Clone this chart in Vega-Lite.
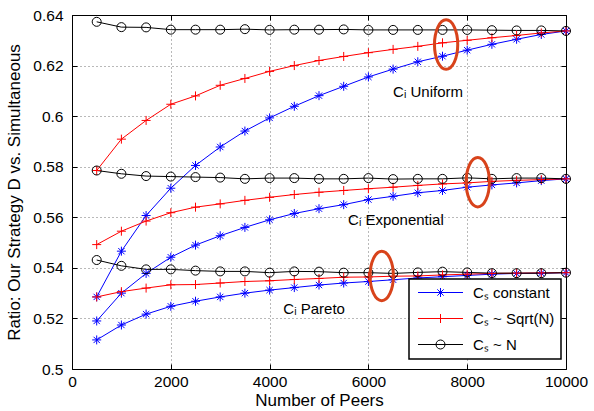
{
  "$schema": "https://vega.github.io/schema/vega-lite/v6.json",
  "width": 494,
  "height": 354,
  "autosize": {"type": "none"},
  "padding": {"left": 72, "top": 15, "right": 28, "bottom": 42},
  "background": "white",
  "config": {
    "font": "Liberation Sans",
    "view": {"stroke": "#000", "strokeWidth": 1},
    "axis": {
      "labelFont": "Liberation Sans", "titleFont": "Liberation Sans",
      "labelFontSize": 15.5, "titleFontSize": 17, "titleFontWeight": "normal",
      "labelColor": "#000", "titleColor": "#000", "tickColor": "#000",
      "domain": false, "gridColor": "#000", "gridDash": [1, 3], "gridOpacity": 0.55,
      "tickSize": -5, "tickWidth": 1, "labelFlush": false
    },
    "legend": {
      "orient": "none", "legendX": 337, "legendY": 264,
      "strokeColor": "#000", "strokeWidth": 1.5, "fillColor": "white",
      "padding": 6, "rowPadding": 10, "symbolSize": 81, "symbolStrokeWidth": 1,
      "symbolOffset": 18, "labelOffset": 25,
      "labelFont": "Liberation Sans", "labelFontSize": 15, "labelColor": "#000"
    }
  },
  "datasets": {
    "curves": [
      {"dist": "Uniform", "series": "Cₛ constant", "peers": 500, "ratio": 0.5285},
      {"dist": "Uniform", "series": "Cₛ constant", "peers": 1000, "ratio": 0.5466},
      {"dist": "Uniform", "series": "Cₛ constant", "peers": 1500, "ratio": 0.5607},
      {"dist": "Uniform", "series": "Cₛ constant", "peers": 2000, "ratio": 0.5715},
      {"dist": "Uniform", "series": "Cₛ constant", "peers": 2500, "ratio": 0.5805},
      {"dist": "Uniform", "series": "Cₛ constant", "peers": 3000, "ratio": 0.5878},
      {"dist": "Uniform", "series": "Cₛ constant", "peers": 3500, "ratio": 0.5941},
      {"dist": "Uniform", "series": "Cₛ constant", "peers": 4000, "ratio": 0.5993},
      {"dist": "Uniform", "series": "Cₛ constant", "peers": 4500, "ratio": 0.6039},
      {"dist": "Uniform", "series": "Cₛ constant", "peers": 5000, "ratio": 0.6081},
      {"dist": "Uniform", "series": "Cₛ constant", "peers": 5500, "ratio": 0.6118},
      {"dist": "Uniform", "series": "Cₛ constant", "peers": 6000, "ratio": 0.6155},
      {"dist": "Uniform", "series": "Cₛ constant", "peers": 6500, "ratio": 0.6186},
      {"dist": "Uniform", "series": "Cₛ constant", "peers": 7000, "ratio": 0.6215},
      {"dist": "Uniform", "series": "Cₛ constant", "peers": 7500, "ratio": 0.6237},
      {"dist": "Uniform", "series": "Cₛ constant", "peers": 8000, "ratio": 0.6261},
      {"dist": "Uniform", "series": "Cₛ constant", "peers": 8500, "ratio": 0.6284},
      {"dist": "Uniform", "series": "Cₛ constant", "peers": 9000, "ratio": 0.6304},
      {"dist": "Uniform", "series": "Cₛ constant", "peers": 9500, "ratio": 0.6323},
      {"dist": "Uniform", "series": "Cₛ constant", "peers": 10000, "ratio": 0.6337},
      {"dist": "Uniform", "series": "Cₛ ~ Sqrt(N)", "peers": 500, "ratio": 0.5785},
      {"dist": "Uniform", "series": "Cₛ ~ Sqrt(N)", "peers": 1000, "ratio": 0.5909},
      {"dist": "Uniform", "series": "Cₛ ~ Sqrt(N)", "peers": 1500, "ratio": 0.5983},
      {"dist": "Uniform", "series": "Cₛ ~ Sqrt(N)", "peers": 2000, "ratio": 0.6047},
      {"dist": "Uniform", "series": "Cₛ ~ Sqrt(N)", "peers": 2500, "ratio": 0.6080},
      {"dist": "Uniform", "series": "Cₛ ~ Sqrt(N)", "peers": 3000, "ratio": 0.6122},
      {"dist": "Uniform", "series": "Cₛ ~ Sqrt(N)", "peers": 3500, "ratio": 0.6149},
      {"dist": "Uniform", "series": "Cₛ ~ Sqrt(N)", "peers": 4000, "ratio": 0.6177},
      {"dist": "Uniform", "series": "Cₛ ~ Sqrt(N)", "peers": 4500, "ratio": 0.6200},
      {"dist": "Uniform", "series": "Cₛ ~ Sqrt(N)", "peers": 5000, "ratio": 0.6220},
      {"dist": "Uniform", "series": "Cₛ ~ Sqrt(N)", "peers": 5500, "ratio": 0.6236},
      {"dist": "Uniform", "series": "Cₛ ~ Sqrt(N)", "peers": 6000, "ratio": 0.6251},
      {"dist": "Uniform", "series": "Cₛ ~ Sqrt(N)", "peers": 6500, "ratio": 0.6264},
      {"dist": "Uniform", "series": "Cₛ ~ Sqrt(N)", "peers": 7000, "ratio": 0.6276},
      {"dist": "Uniform", "series": "Cₛ ~ Sqrt(N)", "peers": 7500, "ratio": 0.6290},
      {"dist": "Uniform", "series": "Cₛ ~ Sqrt(N)", "peers": 8000, "ratio": 0.6300},
      {"dist": "Uniform", "series": "Cₛ ~ Sqrt(N)", "peers": 8500, "ratio": 0.6310},
      {"dist": "Uniform", "series": "Cₛ ~ Sqrt(N)", "peers": 9000, "ratio": 0.6319},
      {"dist": "Uniform", "series": "Cₛ ~ Sqrt(N)", "peers": 9500, "ratio": 0.6329},
      {"dist": "Uniform", "series": "Cₛ ~ Sqrt(N)", "peers": 10000, "ratio": 0.6337},
      {"dist": "Uniform", "series": "Cₛ ~ N", "peers": 500, "ratio": 0.6373},
      {"dist": "Uniform", "series": "Cₛ ~ N", "peers": 1000, "ratio": 0.6352},
      {"dist": "Uniform", "series": "Cₛ ~ N", "peers": 1500, "ratio": 0.6351},
      {"dist": "Uniform", "series": "Cₛ ~ N", "peers": 2000, "ratio": 0.6342},
      {"dist": "Uniform", "series": "Cₛ ~ N", "peers": 2500, "ratio": 0.6342},
      {"dist": "Uniform", "series": "Cₛ ~ N", "peers": 3000, "ratio": 0.6342},
      {"dist": "Uniform", "series": "Cₛ ~ N", "peers": 3500, "ratio": 0.6344},
      {"dist": "Uniform", "series": "Cₛ ~ N", "peers": 4000, "ratio": 0.6341},
      {"dist": "Uniform", "series": "Cₛ ~ N", "peers": 4500, "ratio": 0.6342},
      {"dist": "Uniform", "series": "Cₛ ~ N", "peers": 5000, "ratio": 0.6342},
      {"dist": "Uniform", "series": "Cₛ ~ N", "peers": 5500, "ratio": 0.6343},
      {"dist": "Uniform", "series": "Cₛ ~ N", "peers": 6000, "ratio": 0.6341},
      {"dist": "Uniform", "series": "Cₛ ~ N", "peers": 6500, "ratio": 0.6341},
      {"dist": "Uniform", "series": "Cₛ ~ N", "peers": 7000, "ratio": 0.6341},
      {"dist": "Uniform", "series": "Cₛ ~ N", "peers": 7500, "ratio": 0.6341},
      {"dist": "Uniform", "series": "Cₛ ~ N", "peers": 8000, "ratio": 0.6341},
      {"dist": "Uniform", "series": "Cₛ ~ N", "peers": 8500, "ratio": 0.6340},
      {"dist": "Uniform", "series": "Cₛ ~ N", "peers": 9000, "ratio": 0.6339},
      {"dist": "Uniform", "series": "Cₛ ~ N", "peers": 9500, "ratio": 0.6339},
      {"dist": "Uniform", "series": "Cₛ ~ N", "peers": 10000, "ratio": 0.6337},
      {"dist": "Exponential", "series": "Cₛ constant", "peers": 500, "ratio": 0.5190},
      {"dist": "Exponential", "series": "Cₛ constant", "peers": 1000, "ratio": 0.5300},
      {"dist": "Exponential", "series": "Cₛ constant", "peers": 1500, "ratio": 0.5378},
      {"dist": "Exponential", "series": "Cₛ constant", "peers": 2000, "ratio": 0.5442},
      {"dist": "Exponential", "series": "Cₛ constant", "peers": 2500, "ratio": 0.5490},
      {"dist": "Exponential", "series": "Cₛ constant", "peers": 3000, "ratio": 0.5527},
      {"dist": "Exponential", "series": "Cₛ constant", "peers": 3500, "ratio": 0.5560},
      {"dist": "Exponential", "series": "Cₛ constant", "peers": 4000, "ratio": 0.5590},
      {"dist": "Exponential", "series": "Cₛ constant", "peers": 4500, "ratio": 0.5615},
      {"dist": "Exponential", "series": "Cₛ constant", "peers": 5000, "ratio": 0.5634},
      {"dist": "Exponential", "series": "Cₛ constant", "peers": 5500, "ratio": 0.5650},
      {"dist": "Exponential", "series": "Cₛ constant", "peers": 6000, "ratio": 0.5670},
      {"dist": "Exponential", "series": "Cₛ constant", "peers": 6500, "ratio": 0.5683},
      {"dist": "Exponential", "series": "Cₛ constant", "peers": 7000, "ratio": 0.5697},
      {"dist": "Exponential", "series": "Cₛ constant", "peers": 7500, "ratio": 0.5706},
      {"dist": "Exponential", "series": "Cₛ constant", "peers": 8000, "ratio": 0.5719},
      {"dist": "Exponential", "series": "Cₛ constant", "peers": 8500, "ratio": 0.5728},
      {"dist": "Exponential", "series": "Cₛ constant", "peers": 9000, "ratio": 0.5736},
      {"dist": "Exponential", "series": "Cₛ constant", "peers": 9500, "ratio": 0.5745},
      {"dist": "Exponential", "series": "Cₛ constant", "peers": 10000, "ratio": 0.5752},
      {"dist": "Exponential", "series": "Cₛ ~ Sqrt(N)", "peers": 500, "ratio": 0.5492},
      {"dist": "Exponential", "series": "Cₛ ~ Sqrt(N)", "peers": 1000, "ratio": 0.5545},
      {"dist": "Exponential", "series": "Cₛ ~ Sqrt(N)", "peers": 1500, "ratio": 0.5585},
      {"dist": "Exponential", "series": "Cₛ ~ Sqrt(N)", "peers": 2000, "ratio": 0.5618},
      {"dist": "Exponential", "series": "Cₛ ~ Sqrt(N)", "peers": 2500, "ratio": 0.5640},
      {"dist": "Exponential", "series": "Cₛ ~ Sqrt(N)", "peers": 3000, "ratio": 0.5653},
      {"dist": "Exponential", "series": "Cₛ ~ Sqrt(N)", "peers": 3500, "ratio": 0.5667},
      {"dist": "Exponential", "series": "Cₛ ~ Sqrt(N)", "peers": 4000, "ratio": 0.5679},
      {"dist": "Exponential", "series": "Cₛ ~ Sqrt(N)", "peers": 4500, "ratio": 0.5690},
      {"dist": "Exponential", "series": "Cₛ ~ Sqrt(N)", "peers": 5000, "ratio": 0.5699},
      {"dist": "Exponential", "series": "Cₛ ~ Sqrt(N)", "peers": 5500, "ratio": 0.5706},
      {"dist": "Exponential", "series": "Cₛ ~ Sqrt(N)", "peers": 6000, "ratio": 0.5713},
      {"dist": "Exponential", "series": "Cₛ ~ Sqrt(N)", "peers": 6500, "ratio": 0.5719},
      {"dist": "Exponential", "series": "Cₛ ~ Sqrt(N)", "peers": 7000, "ratio": 0.5726},
      {"dist": "Exponential", "series": "Cₛ ~ Sqrt(N)", "peers": 7500, "ratio": 0.5732},
      {"dist": "Exponential", "series": "Cₛ ~ Sqrt(N)", "peers": 8000, "ratio": 0.5736},
      {"dist": "Exponential", "series": "Cₛ ~ Sqrt(N)", "peers": 8500, "ratio": 0.5742},
      {"dist": "Exponential", "series": "Cₛ ~ Sqrt(N)", "peers": 9000, "ratio": 0.5746},
      {"dist": "Exponential", "series": "Cₛ ~ Sqrt(N)", "peers": 9500, "ratio": 0.5749},
      {"dist": "Exponential", "series": "Cₛ ~ Sqrt(N)", "peers": 10000, "ratio": 0.5752},
      {"dist": "Exponential", "series": "Cₛ ~ N", "peers": 500, "ratio": 0.5785},
      {"dist": "Exponential", "series": "Cₛ ~ N", "peers": 1000, "ratio": 0.5772},
      {"dist": "Exponential", "series": "Cₛ ~ N", "peers": 1500, "ratio": 0.5763},
      {"dist": "Exponential", "series": "Cₛ ~ N", "peers": 2000, "ratio": 0.5761},
      {"dist": "Exponential", "series": "Cₛ ~ N", "peers": 2500, "ratio": 0.5759},
      {"dist": "Exponential", "series": "Cₛ ~ N", "peers": 3000, "ratio": 0.5757},
      {"dist": "Exponential", "series": "Cₛ ~ N", "peers": 3500, "ratio": 0.5752},
      {"dist": "Exponential", "series": "Cₛ ~ N", "peers": 4000, "ratio": 0.5755},
      {"dist": "Exponential", "series": "Cₛ ~ N", "peers": 4500, "ratio": 0.5755},
      {"dist": "Exponential", "series": "Cₛ ~ N", "peers": 5000, "ratio": 0.5752},
      {"dist": "Exponential", "series": "Cₛ ~ N", "peers": 5500, "ratio": 0.5752},
      {"dist": "Exponential", "series": "Cₛ ~ N", "peers": 6000, "ratio": 0.5755},
      {"dist": "Exponential", "series": "Cₛ ~ N", "peers": 6500, "ratio": 0.5751},
      {"dist": "Exponential", "series": "Cₛ ~ N", "peers": 7000, "ratio": 0.5752},
      {"dist": "Exponential", "series": "Cₛ ~ N", "peers": 7500, "ratio": 0.5752},
      {"dist": "Exponential", "series": "Cₛ ~ N", "peers": 8000, "ratio": 0.5756},
      {"dist": "Exponential", "series": "Cₛ ~ N", "peers": 8500, "ratio": 0.5752},
      {"dist": "Exponential", "series": "Cₛ ~ N", "peers": 9000, "ratio": 0.5755},
      {"dist": "Exponential", "series": "Cₛ ~ N", "peers": 9500, "ratio": 0.5755},
      {"dist": "Exponential", "series": "Cₛ ~ N", "peers": 10000, "ratio": 0.5752},
      {"dist": "Pareto", "series": "Cₛ constant", "peers": 500, "ratio": 0.5115},
      {"dist": "Pareto", "series": "Cₛ constant", "peers": 1000, "ratio": 0.5174},
      {"dist": "Pareto", "series": "Cₛ constant", "peers": 1500, "ratio": 0.5217},
      {"dist": "Pareto", "series": "Cₛ constant", "peers": 2000, "ratio": 0.5248},
      {"dist": "Pareto", "series": "Cₛ constant", "peers": 2500, "ratio": 0.5268},
      {"dist": "Pareto", "series": "Cₛ constant", "peers": 3000, "ratio": 0.5285},
      {"dist": "Pareto", "series": "Cₛ constant", "peers": 3500, "ratio": 0.5300},
      {"dist": "Pareto", "series": "Cₛ constant", "peers": 4000, "ratio": 0.5312},
      {"dist": "Pareto", "series": "Cₛ constant", "peers": 4500, "ratio": 0.5322},
      {"dist": "Pareto", "series": "Cₛ constant", "peers": 5000, "ratio": 0.5332},
      {"dist": "Pareto", "series": "Cₛ constant", "peers": 5500, "ratio": 0.5340},
      {"dist": "Pareto", "series": "Cₛ constant", "peers": 6000, "ratio": 0.5346},
      {"dist": "Pareto", "series": "Cₛ constant", "peers": 6500, "ratio": 0.5353},
      {"dist": "Pareto", "series": "Cₛ constant", "peers": 7000, "ratio": 0.5360},
      {"dist": "Pareto", "series": "Cₛ constant", "peers": 7500, "ratio": 0.5365},
      {"dist": "Pareto", "series": "Cₛ constant", "peers": 8000, "ratio": 0.5370},
      {"dist": "Pareto", "series": "Cₛ constant", "peers": 8500, "ratio": 0.5375},
      {"dist": "Pareto", "series": "Cₛ constant", "peers": 9000, "ratio": 0.5378},
      {"dist": "Pareto", "series": "Cₛ constant", "peers": 9500, "ratio": 0.5379},
      {"dist": "Pareto", "series": "Cₛ constant", "peers": 10000, "ratio": 0.5381},
      {"dist": "Pareto", "series": "Cₛ ~ Sqrt(N)", "peers": 500, "ratio": 0.5285},
      {"dist": "Pareto", "series": "Cₛ ~ Sqrt(N)", "peers": 1000, "ratio": 0.5306},
      {"dist": "Pareto", "series": "Cₛ ~ Sqrt(N)", "peers": 1500, "ratio": 0.5320},
      {"dist": "Pareto", "series": "Cₛ ~ Sqrt(N)", "peers": 2000, "ratio": 0.5333},
      {"dist": "Pareto", "series": "Cₛ ~ Sqrt(N)", "peers": 2500, "ratio": 0.5334},
      {"dist": "Pareto", "series": "Cₛ ~ Sqrt(N)", "peers": 3000, "ratio": 0.5340},
      {"dist": "Pareto", "series": "Cₛ ~ Sqrt(N)", "peers": 3500, "ratio": 0.5346},
      {"dist": "Pareto", "series": "Cₛ ~ Sqrt(N)", "peers": 4000, "ratio": 0.5349},
      {"dist": "Pareto", "series": "Cₛ ~ Sqrt(N)", "peers": 4500, "ratio": 0.5354},
      {"dist": "Pareto", "series": "Cₛ ~ Sqrt(N)", "peers": 5000, "ratio": 0.5358},
      {"dist": "Pareto", "series": "Cₛ ~ Sqrt(N)", "peers": 5500, "ratio": 0.5363},
      {"dist": "Pareto", "series": "Cₛ ~ Sqrt(N)", "peers": 6000, "ratio": 0.5364},
      {"dist": "Pareto", "series": "Cₛ ~ Sqrt(N)", "peers": 6500, "ratio": 0.5367},
      {"dist": "Pareto", "series": "Cₛ ~ Sqrt(N)", "peers": 7000, "ratio": 0.5368},
      {"dist": "Pareto", "series": "Cₛ ~ Sqrt(N)", "peers": 7500, "ratio": 0.5372},
      {"dist": "Pareto", "series": "Cₛ ~ Sqrt(N)", "peers": 8000, "ratio": 0.5375},
      {"dist": "Pareto", "series": "Cₛ ~ Sqrt(N)", "peers": 8500, "ratio": 0.5378},
      {"dist": "Pareto", "series": "Cₛ ~ Sqrt(N)", "peers": 9000, "ratio": 0.5379},
      {"dist": "Pareto", "series": "Cₛ ~ Sqrt(N)", "peers": 9500, "ratio": 0.5380},
      {"dist": "Pareto", "series": "Cₛ ~ Sqrt(N)", "peers": 10000, "ratio": 0.5381},
      {"dist": "Pareto", "series": "Cₛ ~ N", "peers": 500, "ratio": 0.5431},
      {"dist": "Pareto", "series": "Cₛ ~ N", "peers": 1000, "ratio": 0.5408},
      {"dist": "Pareto", "series": "Cₛ ~ N", "peers": 1500, "ratio": 0.5394},
      {"dist": "Pareto", "series": "Cₛ ~ N", "peers": 2000, "ratio": 0.5394},
      {"dist": "Pareto", "series": "Cₛ ~ N", "peers": 2500, "ratio": 0.5389},
      {"dist": "Pareto", "series": "Cₛ ~ N", "peers": 3000, "ratio": 0.5386},
      {"dist": "Pareto", "series": "Cₛ ~ N", "peers": 3500, "ratio": 0.5386},
      {"dist": "Pareto", "series": "Cₛ ~ N", "peers": 4000, "ratio": 0.5381},
      {"dist": "Pareto", "series": "Cₛ ~ N", "peers": 4500, "ratio": 0.5386},
      {"dist": "Pareto", "series": "Cₛ ~ N", "peers": 5000, "ratio": 0.5385},
      {"dist": "Pareto", "series": "Cₛ ~ N", "peers": 5500, "ratio": 0.5381},
      {"dist": "Pareto", "series": "Cₛ ~ N", "peers": 6000, "ratio": 0.5381},
      {"dist": "Pareto", "series": "Cₛ ~ N", "peers": 6500, "ratio": 0.5378},
      {"dist": "Pareto", "series": "Cₛ ~ N", "peers": 7000, "ratio": 0.5382},
      {"dist": "Pareto", "series": "Cₛ ~ N", "peers": 7500, "ratio": 0.5385},
      {"dist": "Pareto", "series": "Cₛ ~ N", "peers": 8000, "ratio": 0.5382},
      {"dist": "Pareto", "series": "Cₛ ~ N", "peers": 8500, "ratio": 0.5379},
      {"dist": "Pareto", "series": "Cₛ ~ N", "peers": 9000, "ratio": 0.5379},
      {"dist": "Pareto", "series": "Cₛ ~ N", "peers": 9500, "ratio": 0.5379},
      {"dist": "Pareto", "series": "Cₛ ~ N", "peers": 10000, "ratio": 0.5381}
    ],
    "ellipses": [
      {"peers": 7573, "ratio": 0.6283},
      {"peers": 8214, "ratio": 0.5739},
      {"peers": 6270, "ratio": 0.5368}
    ],
    "labels": [
      {"peers": 6500, "ratio": 0.6095, "label": "Cᵢ Uniform"},
      {"peers": 5588, "ratio": 0.5591, "label": "Cᵢ Exponential"},
      {"peers": 4278, "ratio": 0.5238, "label": "Cᵢ Pareto"}
    ]
  },
  "layer": [
    {
      "data": {"name": "curves"},
      "mark": {"type": "line", "strokeWidth": 1},
      "encoding": {
        "x": {"field": "peers", "type": "quantitative", "title": "Number of Peers",
              "scale": {"domain": [0, 10000], "nice": false, "zero": false},
              "axis": {"values": [0, 2000, 4000, 6000, 8000, 10000], "format": "d", "grid": true, "labelPadding": 10, "titlePadding": 3}},
        "y": {"field": "ratio", "type": "quantitative", "title": "Ratio: Our Strategy D vs. Simultaneous",
              "scale": {"domain": [0.5, 0.64], "nice": false, "zero": false},
              "axis": {"values": [0.5, 0.52, 0.54, 0.56, 0.58, 0.6, 0.62, 0.64], "format": "~g", "grid": true, "labelPadding": 14, "titlePadding": 9}},
        "color": {"field": "series", "type": "nominal", "title": null,
                  "scale": {"domain": ["Cₛ constant", "Cₛ ~ Sqrt(N)", "Cₛ ~ N"], "range": ["#0000ff", "#ff0000", "#000000"]},
                  "legend": {
                    "title": null,
                    "encode": {
                      "symbols": {
                        "update": {
                          "shape": {"signal": "indexof(datum.value, 'constant') >= 0 ? 'M-5,0L5,0M0,-1L0,1M-0.7,-0.7L0.7,0.7M-0.7,0.7L0.7,-0.7' : (indexof(datum.value, 'Sqrt') >= 0 ? 'M-5,0L5,0M0,-1L0,1' : 'M-5,0L5,0M-1,0A1,1 0 1,0 1,0A1,1 0 1,0 -1,0')"},
                          "fill": {"value": "transparent"},
                          "strokeWidth": {"value": 1}
                        }
                      }
                    }
                  }},
        "detail": {"field": "dist", "type": "nominal"}
      }
    },
    {
      "data": {"name": "curves"},
      "transform": [{"filter": {"field": "series", "equal": "Cₛ constant"}}],
      "mark": {"type": "point", "filled": false, "size": 81, "strokeWidth": 1, "opacity": 1,
               "shape": "M-1,0L1,0M0,-1L0,1M-0.7,-0.7L0.7,0.7M-0.7,0.7L0.7,-0.7"},
      "encoding": {
        "x": {"field": "peers", "type": "quantitative", "scale": {"domain": [0, 10000], "nice": false, "zero": false}, "axis": null},
        "y": {"field": "ratio", "type": "quantitative", "scale": {"domain": [0.5, 0.64], "nice": false, "zero": false}, "axis": null},
        "color": {"field": "series", "type": "nominal"}
      }
    },
    {
      "data": {"name": "curves"},
      "transform": [{"filter": {"field": "series", "equal": "Cₛ ~ Sqrt(N)"}}],
      "mark": {"type": "point", "filled": false, "size": 81, "strokeWidth": 1, "opacity": 1,
               "shape": "M-1,0L1,0M0,-1L0,1"},
      "encoding": {
        "x": {"field": "peers", "type": "quantitative", "scale": {"domain": [0, 10000], "nice": false, "zero": false}, "axis": null},
        "y": {"field": "ratio", "type": "quantitative", "scale": {"domain": [0.5, 0.64], "nice": false, "zero": false}, "axis": null},
        "color": {"field": "series", "type": "nominal"}
      }
    },
    {
      "data": {"name": "curves"},
      "transform": [{"filter": {"field": "series", "equal": "Cₛ ~ N"}}],
      "mark": {"type": "point", "filled": false, "size": 81, "strokeWidth": 1, "opacity": 1, "shape": "circle"},
      "encoding": {
        "x": {"field": "peers", "type": "quantitative", "scale": {"domain": [0, 10000], "nice": false, "zero": false}, "axis": null},
        "y": {"field": "ratio", "type": "quantitative", "scale": {"domain": [0.5, 0.64], "nice": false, "zero": false}, "axis": null},
        "color": {"field": "series", "type": "nominal"}
      }
    },
    {
      "data": {"name": "ellipses"},
      "mark": {"type": "point", "filled": false, "size": 2450, "strokeWidth": 3, "color": "#d8431b", "opacity": 1,
               "shape": "M0,-1A0.47,1 0 1,1 0,1A0.47,1 0 1,1 0,-1Z"},
      "encoding": {
        "x": {"field": "peers", "type": "quantitative", "scale": {"domain": [0, 10000], "nice": false, "zero": false},
              "axis": {"orient": "top", "values": [0, 2000, 4000, 6000, 8000, 10000], "labels": false, "title": null, "grid": false}},
        "y": {"field": "ratio", "type": "quantitative", "scale": {"domain": [0.5, 0.64], "nice": false, "zero": false},
              "axis": {"orient": "right", "values": [0.5, 0.52, 0.54, 0.56, 0.58, 0.6, 0.62, 0.64], "labels": false, "title": null, "grid": false}}
      }
    },
    {
      "data": {"name": "labels"},
      "mark": {"type": "text", "align": "left", "baseline": "middle", "font": "Liberation Sans", "fontSize": 15, "color": "#000"},
      "encoding": {
        "x": {"field": "peers", "type": "quantitative", "scale": {"domain": [0, 10000], "nice": false, "zero": false}, "axis": null},
        "y": {"field": "ratio", "type": "quantitative", "scale": {"domain": [0.5, 0.64], "nice": false, "zero": false}, "axis": null},
        "text": {"field": "label"}
      }
    }
  ],
  "resolve": {"axis": {"x": "independent", "y": "independent"}}
}
